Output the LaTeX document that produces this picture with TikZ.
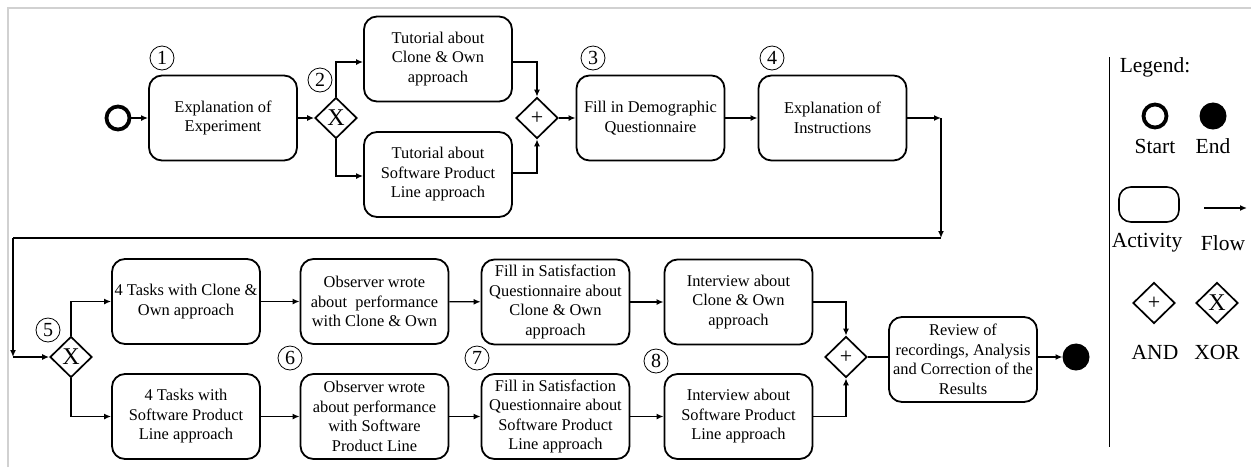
\documentclass[tikz,border=0pt]{standalone}
\usepackage{fontspec}
\setmainfont{Liberation Serif}
\usetikzlibrary{shapes.geometric,arrows.meta,calc}
\tikzset{
  act/.style={draw,line width=1.8pt,rounded corners=13pt,minimum width=148pt,minimum height=85pt,inner sep=0pt,align=center,font=\fontsize{16.4}{19.5}\selectfont},
  gw/.style={draw,diamond,line width=1.7pt,minimum width=42pt,minimum height=41pt,inner sep=0pt},
  xorgw/.style={gw,font=\fontsize{24}{24}\selectfont},
  andgw/.style={gw,font=\fontsize{22}{22}\selectfont},
  num/.style={draw,circle,line width=0.8pt,minimum size=24pt,inner sep=0pt,font=\fontsize{20}{20}\selectfont},
  flow/.style={line width=1.4pt,-{Latex[length=7pt,width=6pt]}},
  plain/.style={line width=1.4pt},
  startev/.style={draw,circle,line width=3.8pt,minimum size=23pt,inner sep=0pt},
  endev/.style={draw,circle,fill=black,line width=1pt,minimum size=26pt,inner sep=0pt},
  lgd/.style={font=\fontsize{21.5}{24}\selectfont,inner sep=0pt}
}
\begin{document}
\begin{tikzpicture}[x=1pt,y=-1pt]
\useasboundingbox (0,0) rectangle (1251,467);
\fill[white] (0,0) rectangle (1251,467);
\draw[line width=1.5pt,black!18] (8,467) -- (8,8) -- (1251,8);

% row 1
\node[startev] (start) at (118,118) {};
\node[act] (b1) at (223,118) {Explanation of\\Experiment};
\node[xorgw] (g2) at (336,118) {X};
\node[act] (tut1) at (438,59) {Tutorial about\\Clone \& Own\\approach};
\node[act] (tut2) at (438,174.5) {Tutorial about\\Software Product\\Line approach};
\node[andgw] (g3) at (537,118) {+};
\node[act] (b3) at (650.5,118) {Fill in Demographic\\Questionnaire};
\node[act] (b4) at (832.5,118) {Explanation of\\Instructions};

\node[num] (n1) at (162,58) {1};
\node[num] (n2) at (320,80) {2};
\node[num] (n3) at (593,58) {3};
\node[num] (n4) at (772,58) {4};

\draw[flow] (start) -- (b1);
\draw[flow] (b1) -- (g2);
\draw[flow] (g2.north) |- ($(tut1.west)+(0,3)$);
\draw[flow] (g2.south) |- ($(tut2.west)+(0,1.5)$);
\draw[flow] ($(tut1.east)+(0,3)$) -| (g3.north);
\draw[flow] ($(tut2.east)+(0,-1.5)$) -| (g3.south);
\draw[flow] (g3) -- (b3);
\draw[flow] (b3) -- (b4);

% long connector
\coordinate (c1) at (941,118);
\coordinate (c2) at (941,238);
\coordinate (c3) at (13,238);
\coordinate (c4) at (13,357);
\draw[flow] (b4.east) -- (c1);
\draw[flow] (c1) -- (c2);
\draw[plain] (c2) -- (c3);
\draw[flow] (c3) -- (c4);

% rows 2 and 3
\node[xorgw] (g5) at (71,357) {X};
\draw[flow] (c4) -- (g5.west);
\node[act] (t1) at (186,301.5) {4 Tasks with Clone \&\\Own approach};
\node[act] (t2) at (186,416.5) {4 Tasks with\\Software Product\\Line approach};
\node[act] (o1) at (374.5,301.5) {Observer wrote\\about~ performance\\with Clone \& Own};
\node[act] (o2) at (374.5,416.5) {Observer wrote\\about performance\\with Software\\Product Line};
\node[act] (f1) at (555.5,302) {Fill in Satisfaction\\Questionnaire about\\Clone \& Own\\approach};
\node[act] (f2) at (555.5,416.5) {Fill in Satisfaction\\Questionnaire about\\Software Product\\Line approach};
\node[act] (i1) at (738.5,302) {Interview about\\Clone \& Own\\approach};
\node[act] (i2) at (738.5,416.5) {Interview about\\Software Product\\Line approach};
\node[andgw] (g6) at (846,357) {+};
\node[act] (rv) at (963,359.5) {Review of\\recordings, Analysis\\and Correction of the\\Results};
\node[endev] (end) at (1076,357) {};

\node[num] (n5) at (48,330) {5};
\node[num] (n6) at (290,358) {6};
\node[num] (n7) at (477,358) {7};
\node[num] (n8) at (656,361) {8};

\draw[flow] (g5.north) |- (t1.west);
\draw[flow] (g5.south) |- (t2.west);
\draw[flow] (t1) -- (o1);
\draw[flow] (t2) -- (o2);
\draw[flow] (o1) -- (f1);
\draw[flow] (o2) -- (f2);
\draw[flow] (f1) -- (i1);
\draw[flow] (f2) -- (i2);
\draw[flow] (i1.east) -| (g6.north);
\draw[flow] (i2.east) -| (g6.south);
\draw[plain] (g6.east) -- (g6.east -| rv.west);
\draw[flow] (rv.east |- end) -- (end);

% legend
\coordinate (lt) at (1109,57);
\coordinate (lb) at (1109,447);
\draw[line width=1pt] (lt) -- (lb);
\node[lgd] (lg) at (1155,67) {Legend:};
\node[startev] (ls) at (1155,116) {};
\node[endev] (le) at (1213,116) {};
\node[lgd] (lst) at (1155,146) {Start};
\node[lgd] (len) at (1213,146) {End};
\node[draw,line width=1.6pt,rounded corners=12pt,minimum width=60pt,minimum height=35pt] (la) at (1149,204.5) {};
\coordinate (lf1) at (1204,208);
\coordinate (lf2) at (1247,208);
\draw[flow] (lf1) -- (lf2);
\node[lgd] (lat) at (1147,243) {Activity};
\node[lgd] (lft) at (1223,243) {Flow};
\node[andgw] (land) at (1154,303) {+};
\node[xorgw] (lxor) at (1217,303) {X};
\node[lgd] (landt) at (1155,352) {AND};
\node[lgd] (lxort) at (1217,352) {XOR};
\end{tikzpicture}
\end{document}
